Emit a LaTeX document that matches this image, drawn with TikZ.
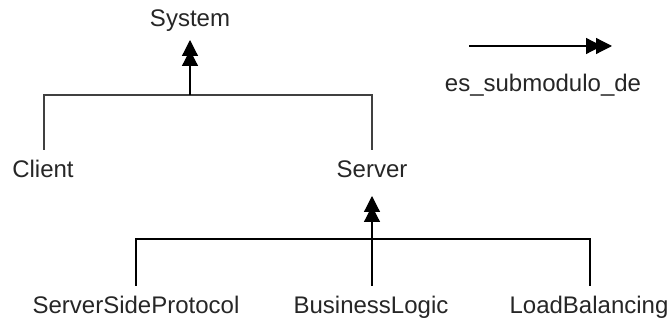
\documentclass[tikz,border=0pt]{standalone}
\usepackage{fontspec}
\setmainfont{Liberation Sans}
\usetikzlibrary{arrows.meta}

\tikzset{
  modname/.style={anchor=base, text=black!85, font=\fontsize{24}{28}\selectfont},
  submod/.style={-{Triangle[length=16pt,width=16pt,sep=-6pt]Triangle[length=16pt,width=16pt]}},
  branch/.style={draw=black!75, line width=1.5pt},
}

\begin{document}
\begin{tikzpicture}[x=1pt,y=-1pt,line width=1.2pt]
  \useasboundingbox (0,0) rectangle (670,323);

  % modules
  \node[modname] (system) at (190,27) {System};
  \node[modname] (client) at (43,178) {Client};
  \node[modname] (server) at (372,178) {Server};
  \node[modname] (ssp) at (136,314) {ServerSideProtocol};
  \node[modname] (logic) at (371,314) {BusinessLogic};
  \node[modname] (balance) at (589,314) {LoadBalancing};

  % first level
  \coordinate (systip) at (190,40);
  \coordinate (sysbar) at (190,95);
  \coordinate (clbar) at (44,95);
  \coordinate (svbar) at (372,95);
  \coordinate (clend) at (44,150);
  \coordinate (svend) at (372,150);
  \draw[branch] (clend) -- (clbar) -- (svbar) -- (svend);
  \draw[submod] (sysbar) -- (systip);

  % second level
  \coordinate (svtip) at (372,196);
  \coordinate (sspbar) at (136,239);
  \coordinate (lbbar) at (590,239);
  \coordinate (sspend) at (136,286);
  \coordinate (logend) at (372,286);
  \coordinate (lbend) at (590,286);
  \draw (sspend) -- (sspbar) -- (lbbar) -- (lbend);
  \draw[submod] (logend) -- (svtip);

  % legend
  \coordinate (legfrom) at (469,46);
  \coordinate (legto) at (612,46);
  \draw[submod] (legfrom) -- (legto);
  \node[modname] (legend) at (543,92) {es\_submodulo\_de};
\end{tikzpicture}
\end{document}
